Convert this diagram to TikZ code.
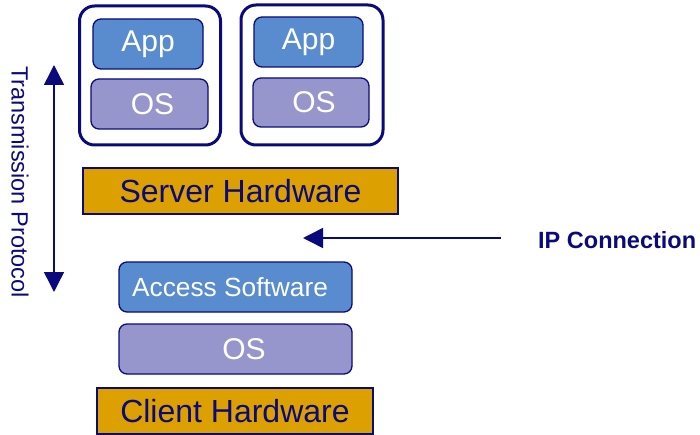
\documentclass[tikz,border=0pt]{standalone}
\usepackage{fontspec}
\setmainfont{Liberation Sans}
\usetikzlibrary{arrows.meta}
\definecolor{navy}{RGB}{10,10,125}
\definecolor{appblue}{RGB}{88,140,206}
\definecolor{ospurple}{RGB}{150,150,205}
\definecolor{gold}{RGB}{220,160,0}
\tikzset{
  container/.style={draw=navy, line width=3pt, rounded corners=15pt, fill=white},
  appbox/.style={draw=navy, line width=1.3pt, rounded corners=8pt, fill=appblue, text=white, inner sep=0pt},
  osbox/.style={draw=navy, line width=1.3pt, rounded corners=8pt, fill=ospurple, text=white, inner sep=0pt},
  hwbox/.style={draw=navy, line width=1.3pt, fill=gold, text=navy, inner sep=0pt, font=\fontsize{32pt}{34pt}\selectfont},
  conn/.style={draw=navy, line width=1.5pt, -{Triangle[length=20pt,width=20pt]}},
}
\begin{document}
\begin{tikzpicture}[x=1pt,y=-1pt]
\useasboundingbox (0,0) rectangle (700,435);
% containers
\node[container, minimum width=141pt, minimum height=139pt] (c1) at (150,75.5) {};
\node[container, minimum width=142pt, minimum height=140pt] (c2) at (312,75) {};
% VM 1
\node[appbox, minimum width=110pt, minimum height=50pt, font=\fontsize{30pt}{32pt}\selectfont] (app1) at (148,44) {App};
\node[osbox, minimum width=117pt, minimum height=50pt, font=\fontsize{30pt}{32pt}\selectfont] (os1) at (149.5,104) {\hspace*{6pt}OS};
% VM 2
\node[appbox, minimum width=109pt, minimum height=50pt, font=\fontsize{30pt}{32pt}\selectfont] (app2) at (308.5,42) {App};
\node[osbox, minimum width=116pt, minimum height=49pt, font=\fontsize{30pt}{32pt}\selectfont] (os2) at (311,102.5) {\hspace*{6pt}OS};
% server hardware
\node[hwbox, minimum width=315pt, minimum height=46pt] (shw) at (240.5,191) {Server Hardware};
% client stack
\node[appbox, minimum width=233pt, minimum height=50pt, font=\fontsize{26.3pt}{28pt}\selectfont] (acc) at (235.5,287) {Access Software\hspace*{11pt}};
\node[osbox, minimum width=233pt, minimum height=50pt, font=\fontsize{30pt}{32pt}\selectfont] (cos) at (235.5,349) {\hspace*{17pt}OS};
\node[hwbox, minimum width=276pt, minimum height=46pt] (chw) at (235,411) {Client Hardware};
% transmission protocol arrow
\coordinate (tpmid) at (54,180);
\coordinate (tptop) at (54,65);
\coordinate (tpbot) at (54,292);
\draw[conn] (tpmid) -- (tptop);
\draw[conn] (tpmid) -- (tpbot);
\node[text=navy, rotate=-90, font=\fontsize{23.5pt}{25pt}\selectfont] (tp) at (20,182) {Transmission Protocol};
% IP connection
\node[text=navy, font=\bfseries\fontsize{23.5pt}{25pt}\selectfont, anchor=west, inner sep=0pt] (ip) at (538,240) {IP Connection};
\coordinate (ipstart) at (501,238);
\coordinate (iptip) at (303,238);
\draw[conn] (ipstart) -- (iptip);
\end{tikzpicture}
\end{document}
